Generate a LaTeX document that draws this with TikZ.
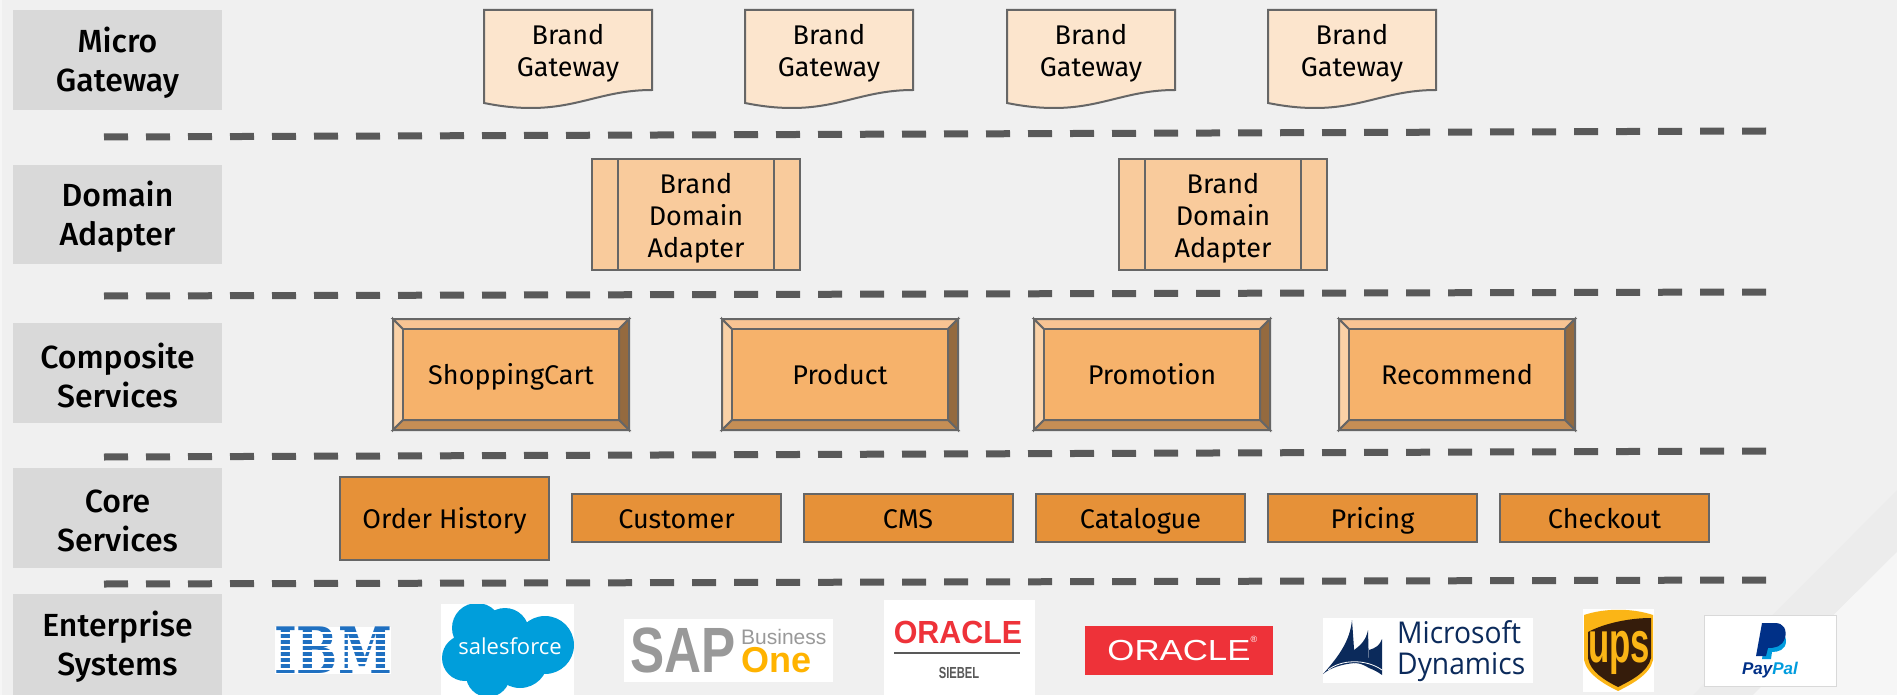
\documentclass[tikz,border=0pt]{standalone}
\usepackage{fontspec}
\setmainfont{Fira Sans}
\newfontfamily\labelfont{Fira Sans Medium}
\newfontfamily\logofont{Liberation Sans}
\newfontfamily\msfont{Open Sans}
\newfontfamily\ibmfont{DejaVu Serif}
\definecolor{slidebg}{HTML}{F0F0F0}
\definecolor{slideband}{HTML}{ECECEC}
\definecolor{slidelight}{HTML}{F6F6F6}
\definecolor{labelgrey}{HTML}{D9D9D9}
\definecolor{linegrey}{HTML}{666666}
\definecolor{dashgrey}{HTML}{595959}
\definecolor{gatewayfill}{HTML}{FCE5CD}
\definecolor{adapterfill}{HTML}{F9CB9C}
\definecolor{bevelfill}{HTML}{F6B26B}
\definecolor{bevellight}{HTML}{FAD1A6}
\definecolor{beveltop}{HTML}{F8C493}
\definecolor{bevelbottom}{HTML}{C58E55}
\definecolor{bevelright}{HTML}{946A3F}
\definecolor{corefill}{HTML}{E69138}
\definecolor{ibmblue}{HTML}{1F70C1}
\definecolor{sfblue}{HTML}{009EDB}
\definecolor{sapgrey}{HTML}{999999}
\definecolor{sapgold}{HTML}{FFB300}
\definecolor{oraclered}{HTML}{EE3239}
\definecolor{msnavy}{HTML}{0B2A5B}
\definecolor{upsgold}{HTML}{FBB516}
\definecolor{upsbrown}{HTML}{351C0B}
\definecolor{ppdark}{HTML}{003087}
\definecolor{pplight}{HTML}{009CDE}
\tikzset{
    layerlabel/.style={inner sep=0pt,align=center,font=\labelfont\fontsize{32}{39}\selectfont},
    tierline/.style={draw=dashgrey,line width=7pt,dash pattern=on 24pt off 18pt},
    boxline/.style={draw=linegrey,line width=2pt},
    boxtext/.style={inner sep=0pt,outer sep=0pt,align=center,font=\fontsize{27}{32}\selectfont},
    bevelbox/.style={boxline,boxtext,fill=bevelfill,minimum width=216pt,minimum height=91pt,text height=20pt,text depth=1pt},
    corebox/.style={boxline,boxtext,fill=corefill,minimum width=209pt,minimum height=48pt,text height=21pt,text depth=1pt},
    logotext/.style={inner sep=0pt,font=\logofont}
}
\newcommand{\layerbox}[4]{
    \fill[labelgrey] (13,#1) rectangle (222,#2);
    \node[layerlabel] (#3) at (117.5,{(#1+#2)/2+2.5}) {#4};
}
\newcommand{\gatewaybox}[2]{
    \draw[boxline,fill=gatewayfill,xshift=#1] (0,10)--(168,10)--(168,90) .. controls (120,90) and (95,108) .. (47,108) .. controls (30,108) and (15,106) .. (0,103)--cycle;
    \node[boxtext] (#2) at ({#1+84},53.5) {Brand\\Gateway};
}
\newcommand{\adapterframe}[2]{
    \draw[boxline,fill=adapterfill] ({#1-104},159) rectangle ({#1+104},270);
    \draw[boxline] ({#1-78},159)--({#1-78},270);
    \draw[boxline] ({#1+78},159)--({#1+78},270);
    \node[boxtext] (#2) at (#1,218) {Brand\\Domain\\Adapter};
}
\newcommand{\bevelframe}[3]{
    \draw[boxline,fill=bevellight] (#1,319)--++(10,10)--++(0,91)--++(-10,10)--cycle;
    \draw[boxline,fill=beveltop] (#1,319)--++(236,0)--++(-10,10)--++(-216,0)--cycle;
    \draw[boxline,fill=bevelright] ({#1+236},319)--++(0,111)--++(-10,-10)--++(0,-91)--cycle;
    \draw[boxline,fill=bevelbottom] (#1,430)--++(236,0)--++(-10,-10)--++(-216,0)--cycle;
    \node[bevelbox] (#2) at ({#1+118},374.5) {#3};
}
\begin{document}
\begin{tikzpicture}[x=1pt,y=-1pt]
    \useasboundingbox (0,0) rectangle (1897,695);
    \fill[slidebg] (0,0) rectangle (1897,695);
    \fill[slidelight] (0,0) rectangle (2,695);
    \fill[slideband] (1897,490)--(1897,552)--(1753,695)--(1693,695)--cycle;
    \fill[slidelight] (1897,552)--(1897,695)--(1753,695)--cycle;

    \layerbox{10}{110}{micro}{Micro\\Gateway}
    \layerbox{165}{264}{domain}{Domain\\Adapter}
    \layerbox{323}{423}{composite}{Composite\\Services}
    \layerbox{468}{568}{core}{Core\\Services}
    \layerbox{594}{695}{enterprise}{Enterprise\\Systems}

    \coordinate (tierAl) at (104,137);
    \coordinate (tierAr) at (1766,131);
    \coordinate (tierBl) at (104,296);
    \coordinate (tierBr) at (1766,292);
    \coordinate (tierCl) at (104,457);
    \coordinate (tierCr) at (1766,451);
    \coordinate (tierDl) at (104,584);
    \coordinate (tierDr) at (1766,580);
    \draw[tierline] (tierAl)--(tierAr);
    \draw[tierline] (tierBl)--(tierBr);
    \draw[tierline] (tierCl)--(tierCr);
    \draw[tierline] (tierDl)--(tierDr);

    \gatewaybox{484}{gatewayA}
    \gatewaybox{745}{gatewayB}
    \gatewaybox{1007}{gatewayC}
    \gatewaybox{1268}{gatewayD}

    \adapterframe{696}{adapterA}
    \adapterframe{1223}{adapterB}

    \bevelframe{393}{cart}{ShoppingCart}
    \bevelframe{722}{product}{Product}
    \bevelframe{1034}{promotion}{Promotion}
    \bevelframe{1339}{recommend}{Recommend}

    \node[corebox,minimum height=83pt] (history) at (444.5,518) {Order History};
    \node[corebox] (customer) at (676.5,518) {Customer};
    \node[corebox] (cms) at (908,518) {CMS};
    \node[corebox] (catalogue) at (1140.5,518) {Catalogue};
    \node[corebox] (pricing) at (1372.5,518) {Pricing};
    \node[corebox] (checkout) at (1604.5,518) {Checkout};

    \fill[white] (275,627) rectangle (391,674);
    \node[logotext,font=\ibmfont\bfseries\fontsize{64}{64}\selectfont,text=ibmblue,xscale=0.76,transform shape] (ibm) at (333,650.5) {IBM};
    \draw[white,line width=2pt] (275,633)--(391,633);
    \draw[white,line width=2pt] (275,639)--(391,639);
    \draw[white,line width=2pt] (275,645)--(391,645);
    \draw[white,line width=2pt] (275,651)--(391,651);
    \draw[white,line width=2pt] (275,657)--(391,657);
    \draw[white,line width=2pt] (275,663)--(391,663);
    \draw[white,line width=2pt] (275,669)--(391,669);

    \fill[white] (441,604) rectangle (574,695);
    \begin{scope}
        \clip (441,604) rectangle (574,695);
        \fill[sfblue] (477,628) circle (25);
        \fill[sfblue] (505,632) circle (24);
        \fill[sfblue] (545,645) circle (29);
        \fill[sfblue] (465,658) circle (23);
        \fill[sfblue] (488,675) circle (22);
        \fill[sfblue] (520,660) circle (28);
        \fill[sfblue] (500,650) circle (25);
    \end{scope}
    \node[inner sep=0pt,text=white,font=\msfont\fontsize{22}{22}\selectfont] (salesforce) at (510,646) {salesforce};

    \fill[white] (624,619) rectangle (833,682);
    \node[logotext,font=\logofont\bfseries\fontsize{64}{64}\selectfont,text=sapgrey,xscale=0.8,transform shape] (sap) at (683,650) {SAP};
    \node[logotext,font=\logofont\fontsize{21}{21}\selectfont,text=sapgrey,anchor=west] (business) at (741,637) {Business};
    \node[logotext,font=\logofont\bfseries\fontsize{36}{36}\selectfont,text=sapgold,anchor=west] (one) at (741,660) {One};

    \fill[white] (884,600) rectangle (1035,695);
    \node[logotext,font=\logofont\bfseries\fontsize{32}{32}\selectfont,text=oraclered,xscale=0.95,transform shape] (siebeloracle) at (958,632) {ORACLE};
    \draw[dashgrey,line width=2pt] (894,653)--(1020,653);
    \node[logotext,font=\logofont\bfseries\fontsize{16}{16}\selectfont,text=dashgrey,xscale=0.7,transform shape] (siebel) at (959,673) {SIEBEL};

    \fill[oraclered] (1085,626) rectangle (1273,675);
    \node[logotext,font=\logofont\fontsize{29}{29}\selectfont,text=white,xscale=1.2,transform shape] (oracle) at (1179,650.5) {ORACLE};
    \node[logotext,font=\logofont\fontsize{9}{9}\selectfont,text=white] (oraclemark) at (1254,639) {®};

    \fill[white] (1323,618) rectangle (1533,683);
    \fill[msnavy] (1323,674) .. controls (1340,655) and (1350,640) .. (1352,620)--(1355,663) .. controls (1342,664) and (1330,668) .. cycle;
    \fill[msnavy] (1354,650) .. controls (1361,645) and (1366,640) .. (1368,630)--(1369,668) .. controls (1364,665) and (1360,663) .. (1354,663)--cycle;
    \fill[msnavy] (1369,650) .. controls (1376,648) and (1380,645) .. (1382,639)--(1382,675) .. controls (1378,672) and (1374,670) .. (1369,668)--cycle;
    \draw[white,line width=0.8pt] (1328,670) .. controls (1340,660) and (1365,658) .. (1382,670);
    \node[inner sep=0pt,anchor=west,align=left,text=msnavy,font=\msfont\fontsize{30}{31}\selectfont,xscale=0.94,transform shape] (dynamics) at (1397,651) {Microsoft\\Dynamics};

    \fill[white] (1583,609) rectangle (1654,692);
    \fill[upsgold] (1584,615) .. controls (1605,608) and (1632,608) .. (1653,615)--(1653,660) .. controls (1650,675) and (1630,685) .. (1618,691) .. controls (1606,685) and (1587,675) .. (1584,660)--cycle;
    \fill[upsbrown] (1588,632) .. controls (1605,623) and (1630,618) .. (1651,618)--(1651,658) .. controls (1648,672) and (1630,681) .. (1618,687) .. controls (1606,681) and (1590,672) .. (1588,658)--cycle;
    \node[logotext,font=\logofont\bfseries\fontsize{58}{58}\selectfont,text=upsgold,xscale=0.6,transform shape] (ups) at (1619,653) {ups};

    \draw[fill=white,draw=labelgrey,line width=1pt] (1704,615) rectangle (1836,686);
    \fill[pplight] (1766,634) .. controls (1776,630) and (1786,632) .. (1786,641) .. controls (1786,650) and (1778,652) .. (1772,652)--(1771,659)--(1762,659)--cycle;
    \fill[ppdark] (1762,623)--(1775,623) .. controls (1784,623) and (1787,630) .. (1785,638) .. controls (1782,647) and (1775,648) .. (1768,648)--(1766,656)--(1756,656)--cycle;
    \node[logotext,font=\logofont\bfseries\itshape\fontsize{17}{17}\selectfont] (paypal) at (1770,670) {\textcolor{ppdark}{Pay}\textcolor{pplight}{Pal}};
\end{tikzpicture}
\end{document}
